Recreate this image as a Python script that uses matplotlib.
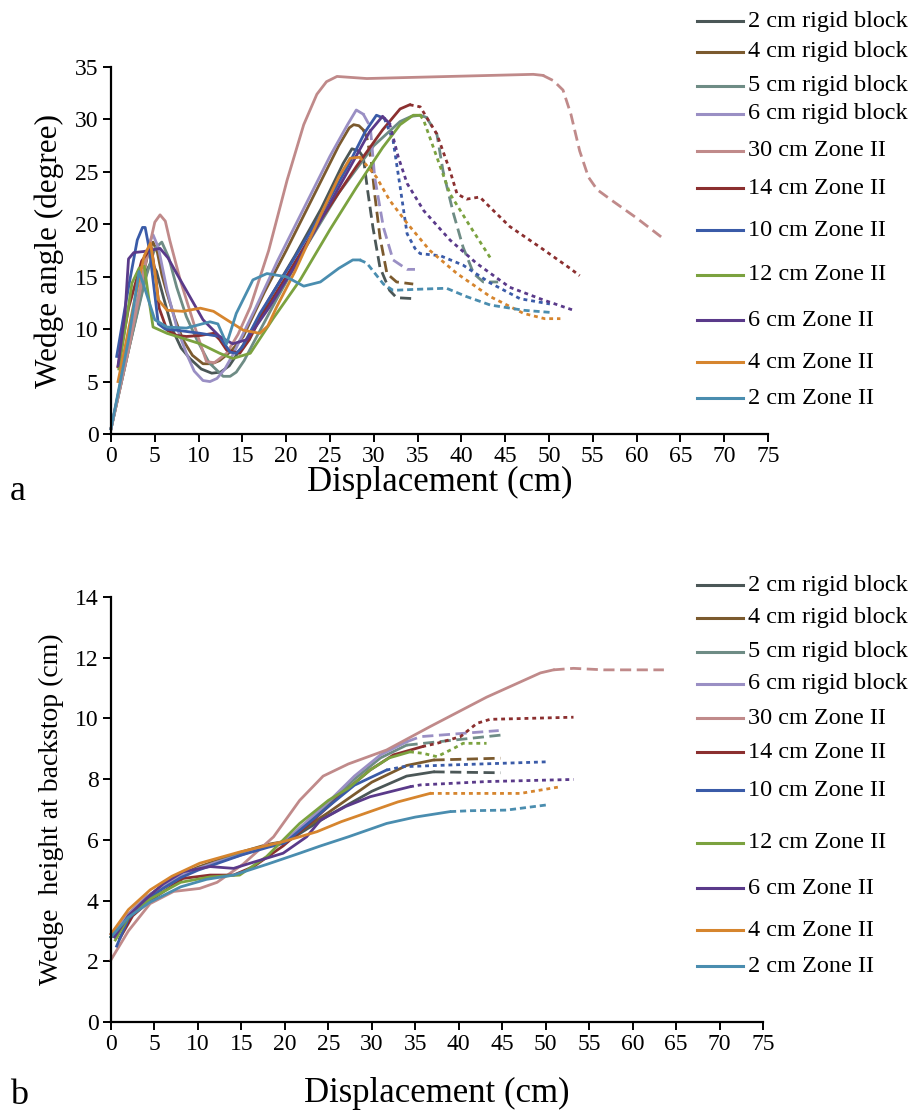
import numpy as np
import matplotlib
matplotlib.use("Agg")
import matplotlib.pyplot as plt
from matplotlib.lines import Line2D

plt.rcParams['font.family'] = ['Liberation Serif', 'DejaVu Serif']

# ---- series names / colours ----
labels = ['2 cm rigid block', '4 cm rigid block', '5 cm rigid block', '6 cm rigid block',
          '30 cm Zone II', '14 cm Zone II', '10 cm Zone II', '12 cm Zone II',
          '6 cm Zone II', '4 cm Zone II', '2 cm Zone II']
colors = ['#4B5757', '#7B5A2E', '#6E8C85', '#9A8FC4', '#C08A8A', '#8B2F2F',
          '#3A5BA8', '#7BA23F', '#5A3A8A', '#D6852E', '#4A8DAF']

x_ticks = np.arange(0, 80, 5)
a_y_ticks = np.arange(0, 40, 5)
b_y_ticks = np.arange(0, 16, 2)

# ---- panel a : wedge angle (degree) vs displacement (cm) ----
# solid part (measured) and dashed continuation, one pair per series
a_rb2 = [(0, 0.5), (2, 8), (3.5, 13.5), (4.2, 15.8), (4.6, 16.4), (5.2, 15.5), (6, 13), (7, 10),
         (8, 8.2), (9, 7.2), (10.3, 6.2), (11.5, 5.8), (12.5, 5.9), (13.5, 6.5), (15.5, 9),
         (18, 12.8), (21, 17), (24, 21.5), (26.5, 25.8), (27.5, 27.2), (28.3, 27), (28.8, 26.4)]
a_rb2_d = [(28.8, 26.4), (29.3, 23.2), (29.9, 19.7), (30.7, 15.9), (31.8, 13.7), (32.6, 13),
           (34.7, 12.9)]
a_rb4 = [(0, 0.5), (2, 8.5), (3.5, 14.5), (4.3, 17.5), (4.8, 18.3), (5.3, 17.3), (5.8, 15.2),
         (6.4, 13.4), (7.3, 11), (8.2, 9), (9.3, 7.5), (10.5, 6.7), (11.5, 6.7), (12.4, 7.0),
         (13.7, 7.9), (15.1, 9.3), (17.5, 13.5), (20, 17.5), (23, 22.5), (26, 27.5), (27.2, 29.2),
         (27.7, 29.5), (28.3, 29.4), (28.8, 29)]
a_rb4_d = [(28.8, 29), (29.2, 28.3), (29.7, 26.1), (30.1, 22.9), (30.7, 18.8), (31.5, 15.3),
           (32.6, 14.5), (34.5, 14.3)]
a_rb5 = [(0, 0.5), (2, 8), (4, 15), (5, 17.7), (5.8, 18.3), (6.6, 16.8), (7.5, 14), (8.6, 11.2),
         (9.8, 9), (11.2, 6.8), (12.8, 5.5), (13.6, 5.5), (14.3, 5.9), (15.2, 7), (16.2, 8.6),
         (19, 13), (22, 17.5), (26, 23), (30, 27.5), (33, 29.8), (34.3, 30.3), (35.3, 30.4),
         (36, 30.2)]
a_rb5_d = [(36, 30.2), (37.2, 28.6), (37.9, 25.1), (39.1, 21), (40.2, 17.8), (41.4, 15.3),
           (42.5, 14.5), (44.2, 14.5)]
a_rb6 = [(0, 0.5), (2, 8.5), (3.7, 15.5), (4.4, 18.3), (4.8, 19), (5.4, 17.8), (6.4, 13.7),
         (7.5, 10.2), (8.6, 7.7), (9.5, 6.0), (10.5, 5.1), (11.3, 5.0), (12.1, 5.3), (13, 6.2),
         (14, 7.7), (16.5, 12), (19, 16.5), (22, 21.5), (25, 26.5), (27, 29.5), (28, 30.9),
         (28.8, 30.5)]
a_rb6_d = [(28.8, 30.5), (29.6, 29.3), (30.1, 24.5), (31.1, 19.7), (32.2, 16.6), (33.8, 15.7),
           (34.7, 15.7)]
a_z30 = [(0, 0.5), (2, 8), (4, 16.5), (5, 20.2), (5.6, 20.9), (6.2, 20.3), (6.7, 18.5),
         (7.9, 14.7), (9.8, 9.6), (10.9, 6.9), (11.8, 6.8), (13.2, 7.7), (14.5, 9.5), (15.9, 12.1),
         (18, 17.5), (20.1, 24.2), (22, 29.5), (23.5, 32.4), (24.6, 33.6), (25.8, 34.1),
         (29.2, 33.9), (38.7, 34.1), (48.2, 34.3), (49.3, 34.2)]
a_z30_d = [(49.3, 34.2), (50.5, 33.7), (51.6, 32.8), (52.5, 30.5), (53.5, 27), (54.5, 24.5),
           (55.5, 23.3), (57.3, 22.2), (60, 20.6), (62.8, 18.8)]
a_z14 = [(0.8, 6.4), (2, 12), (3.5, 16.5), (4.6, 17.8), (5.1, 15), (5.5, 12), (6.4, 9.9),
         (7.5, 9.4), (8.6, 9.3), (10.2, 9.4), (11.7, 9.6), (12.4, 9.0), (13.2, 8.0), (14.7, 7.7),
         (15.8, 9.0), (17, 11), (20, 15), (24, 20.5), (28, 25.5), (31, 29), (33, 31), (34.1, 31.4)]
a_z14_d = [(34.1, 31.4), (35.3, 31.2), (37.2, 28.6), (38.7, 25.1), (39.5, 22.9), (40.6, 22.4),
           (42.1, 22.6), (43.3, 21.6), (45.5, 19.8), (49, 17.8), (52.4, 15.8), (53.5, 15.1)]
a_z10 = [(0.65, 7.4), (2, 14), (3, 18.5), (3.6, 19.7), (3.9, 19.7), (4.4, 17.5), (4.8, 14.7),
         (5.4, 10.5), (6.2, 10), (7.5, 9.9), (10.2, 9.6), (12.4, 9.3), (13.6, 7.8), (14.3, 7.7),
         (15, 8.3), (17, 11.5), (20, 15.5), (24, 21), (27, 25.5), (29, 28.8), (30.3, 30.4),
         (31.2, 30.1)]
a_z10_d = [(31.2, 30.1), (32.2, 28), (33, 23.6), (33.8, 19.1), (34.7, 17.7), (35.3, 17.2),
           (37.6, 17.0), (40.2, 16.1), (43.3, 14.4), (46.7, 12.9), (50.1, 12.4)]
a_z12 = [(0.9, 6.2), (2.4, 14.4), (3.2, 15.8), (3.8, 16), (4.3, 13), (4.8, 10.2), (6.4, 9.6),
         (10.2, 8.6), (12.4, 7.7), (13.9, 7.2), (15.9, 7.7), (18.5, 11), (21.6, 14.7), (25, 19.5),
         (28, 23.5), (31, 27.3), (33, 29.5), (34.5, 30.4), (35.3, 30.4)]
a_z12_d = [(35.3, 30.4), (35.7, 29.9), (37.2, 26.4), (38.7, 22.9), (41, 19.8), (43.3, 16.8)]
a_z6 = [(0.8, 6.5), (1.6, 11.5), (2, 16.7), (2.6, 17.3), (3.7, 17.4), (5.6, 17.7), (6.5, 16.8),
        (7.5, 15.3), (9, 13.1), (10.5, 10.9), (12.4, 9.3), (13.9, 8.6), (15.5, 9.0), (18, 12),
        (21, 16), (24, 20.5), (27, 25), (29.5, 28.8), (31, 30.3), (31.8, 29.6)]
a_z6_d = [(31.8, 29.6), (32.8, 26.4), (33.8, 23.9), (35.7, 21.3), (38.7, 18.5), (41.7, 16.3),
          (45.5, 14.0), (49.3, 12.8), (52.8, 11.8)]
a_z4 = [(0.8, 5.0), (2.5, 12), (3.8, 17), (4.5, 18.2), (5, 15.5), (5.4, 12.8), (6.4, 11.8),
        (8.2, 11.7), (10.2, 12), (11.7, 11.7), (13.2, 10.9), (15.1, 9.9), (17, 9.6), (17.9, 10.3),
        (18.9, 12.1), (21, 15.5), (24, 21), (26, 24.5), (27.3, 26.3), (28.4, 26.4)]
a_z4_d = [(28.4, 26.4), (30.3, 24.5), (31.8, 22.3), (33.8, 20.1), (36.4, 17.5), (39.5, 15.3),
          (43.3, 13.1), (47.1, 11.5), (49.5, 11.0), (51.3, 11.0)]
a_z2 = [(0, 0.5), (2, 9), (3.2, 15.5), (4, 13.5), (5, 10.9), (6.4, 10.2), (8.6, 10.1), (11.3, 10.7),
        (12.2, 10.5), (13.2, 8.6), (14.3, 11.5), (16.2, 14.7), (17.8, 15.3), (20, 15.0),
        (22, 14.1), (23.9, 14.5), (26, 15.8), (27.6, 16.6), (28.4, 16.6)]
a_z2_d = [(28.4, 16.6), (29.2, 16.3), (31.1, 14.3), (32.2, 13.7), (34.9, 13.8), (38.3, 13.9),
          (40.6, 13.1), (43.3, 12.3), (47.1, 11.8), (50.1, 11.6)]

# ---- panel b : wedge height at backstop (cm) vs displacement (cm) ----
b_rb2 = [(0, 2.8), (2, 3.5), (4, 4.05), (6, 4.45), (8, 4.8), (10, 5.05), (12, 5.25), (15, 5.55),
         (18, 5.8), (20, 5.9), (25, 6.8), (30, 7.6), (34, 8.1), (37.1, 8.24)]
b_rb2_d = [(37.1, 8.24), (44.8, 8.21)]
b_rb4 = [(0, 2.8), (2, 3.55), (4, 4.1), (6, 4.5), (8, 4.85), (10, 5.1), (12, 5.3), (15, 5.6),
         (18, 5.85), (20, 5.95), (25, 6.9), (30, 7.9), (34, 8.45), (37.1, 8.63)]
b_rb4_d = [(37.1, 8.63), (44.8, 8.69)]
b_rb5 = [(0, 2.8), (2, 3.5), (4, 4.05), (6, 4.45), (8, 4.8), (10, 5.05), (12, 5.25), (15, 5.55),
         (18, 5.8), (20, 5.95), (25, 7.2), (28, 8.0), (31, 8.7), (34, 9.12)]
b_rb5_d = [(34, 9.12), (44.8, 9.45)]
b_rb6 = [(0, 2.9), (2, 3.55), (4, 4.1), (6, 4.5), (8, 4.85), (10, 5.05), (12, 5.25), (15, 5.5),
         (18, 5.8), (20, 5.95), (25, 7.25), (28, 8.1), (31, 8.8), (34, 9.23)]
b_rb6_d = [(34, 9.23), (35.6, 9.4), (44.6, 9.6)]
b_z30 = [(0, 2.05), (2, 3.0), (4.5, 3.9), (7.2, 4.3), (10.2, 4.4), (12.2, 4.6), (15.2, 5.2),
         (18.7, 6.1), (21.7, 7.3), (24.4, 8.1), (27.3, 8.5), (31.7, 8.96), (36.7, 9.73),
         (43.2, 10.7), (49.4, 11.5), (50.9, 11.6)]
b_z30_d = [(50.9, 11.6), (53.2, 11.65), (56.7, 11.6), (63.6, 11.6)]
b_z14 = [(1, 2.75), (2.5, 3.5), (4.5, 4.0), (8.3, 4.73), (11.4, 4.84), (14.1, 4.84), (16.4, 5.12),
         (19.8, 5.8), (23.7, 6.76), (27.3, 7.7), (29.8, 8.3), (32.5, 8.8), (35.8, 9.07)]
b_z14_d = [(35.8, 9.07), (37.5, 9.18), (40.2, 9.4), (42.1, 9.84), (43.6, 9.97), (53.2, 10.04)]
b_z10 = [(0.65, 2.5), (2, 3.4), (4, 4.0), (6, 4.4), (8, 4.75), (10, 5.0), (12, 5.2), (15, 5.5),
         (18, 5.75), (20, 5.9), (25, 7.1), (28, 7.8), (31.7, 8.3)]
b_z10_d = [(31.7, 8.3), (33.6, 8.41), (39.4, 8.47), (50.1, 8.57)]
b_z12 = [(0.5, 2.7), (2, 3.45), (4.5, 4.05), (8, 4.6), (11.4, 4.78), (14.8, 4.84), (17.9, 5.45),
         (21.7, 6.54), (25, 7.3), (27.3, 7.7), (29.8, 8.3), (32, 8.7), (34.4, 8.9)]
b_z12_d = [(34.4, 8.9), (35.9, 8.85), (37.5, 8.74), (39.4, 9.01), (40.5, 9.18), (43.2, 9.18)]
b_z6 = [(0.4, 2.8), (2, 3.5), (4, 4.05), (6, 4.55), (8.3, 4.95), (11.4, 5.12), (14.1, 5.06),
        (16, 5.23), (19.8, 5.56), (22.5, 6.1), (24.1, 6.65), (27, 7.1), (29.8, 7.42), (34.4, 7.75)]
b_z6_d = [(34.4, 7.75), (35.6, 7.81), (43.2, 7.92), (53.2, 7.99)]
b_z4 = [(0, 2.9), (2, 3.7), (4.5, 4.35), (7, 4.8), (10.2, 5.23), (14.8, 5.6), (19.8, 5.94),
        (23.7, 6.27), (26.5, 6.6), (29.8, 6.93), (33, 7.25), (36.7, 7.53)]
b_z4_d = [(36.7, 7.53), (39.4, 7.53), (47.1, 7.53), (49.4, 7.64), (51.7, 7.75)]
b_z2 = [(0, 2.8), (2, 3.45), (4.5, 3.95), (8, 4.45), (11, 4.7), (14.1, 4.84), (18, 5.2),
        (21.7, 5.56), (24.1, 5.8), (27.3, 6.1), (31.7, 6.54), (35, 6.75), (39, 6.93)]
b_z2_d = [(39, 6.93), (41.3, 6.96), (45.5, 6.98), (50.1, 7.15)]

a_solid = [a_rb2, a_rb4, a_rb5, a_rb6, a_z30, a_z14, a_z10, a_z12, a_z6, a_z4, a_z2]
a_dash = [a_rb2_d, a_rb4_d, a_rb5_d, a_rb6_d, a_z30_d, a_z14_d, a_z10_d, a_z12_d, a_z6_d, a_z4_d, a_z2_d]
b_solid = [b_rb2, b_rb4, b_rb5, b_rb6, b_z30, b_z14, b_z10, b_z12, b_z6, b_z4, b_z2]
b_dash = [b_rb2_d, b_rb4_d, b_rb5_d, b_rb6_d, b_z30_d, b_z14_d, b_z10_d, b_z12_d, b_z6_d, b_z4_d, b_z2_d]

# dashed continuation styles: long dash for rigid blocks and 30 cm, square dots for the rest
long_dash = (0, (4, 2))
dots = (0, (1.4, 1.4))
dash_styles = [long_dash] * 5 + [dots] * 5 + [(0, (2.2, 1.4))]

# legend rows (figure pixel y of each row)
a_leg_y = [21, 52, 86, 114, 151, 188, 230, 275, 320, 362, 398]
b_leg_y = [585, 618, 652, 684, 718, 752, 790, 843, 888, 930, 966]

W, H = 910, 1114
fig = plt.figure(figsize=(W / 100, H / 100), dpi=100)


def style_axes(ax, yticks, ylabel, ylab_size, xlab_y):
    for side in ('top', 'right'):
        ax.spines[side].set_visible(False)
    for side in ('left', 'bottom'):
        ax.spines[side].set_linewidth(1.6)
    ax.set_xlim(0, 75)
    ax.set_ylim(yticks[0], yticks[-1])
    ax.set_xticks(x_ticks)
    ax.set_yticks(yticks)
    ax.tick_params(direction='out', length=6, width=1.4, labelsize=17, pad=3)
    ax.set_xlabel('Displacement (cm)', fontsize=25)
    ax.xaxis.set_label_coords(0.5, xlab_y)
    ax.set_ylabel(ylabel, fontsize=ylab_size, labelpad=8)


def draw_panel(ax, solid, dash):
    for pts, pts_d, c, ls in zip(solid, dash, colors, dash_styles):
        p = np.array(pts)
        q = np.array(pts_d)
        ax.plot(p[:, 0], p[:, 1], color=c, lw=2.0, solid_joinstyle='round', clip_on=False)
        ax.plot(q[:, 0], q[:, 1], color=c, lw=2.0, ls=ls, clip_on=False)


def draw_legend(rows):
    for lab, c, yp in zip(labels, colors, rows):
        yf = 1 - yp / H
        fig.add_artist(Line2D([697 / W, 743 / W], [yf, yf], color=c, lw=2.2))
        fig.text(748 / W, yf, lab, fontsize=17.5, va='center', ha='left')


ax_a = fig.add_axes([111 / W, 1 - 434 / H, 657 / W, 367 / H])
draw_panel(ax_a, a_solid, a_dash)
style_axes(ax_a, a_y_ticks, 'Wedge angle (degree)', 22.5, -0.088)
draw_legend(a_leg_y)
fig.text(10 / W, 1 - 492 / H, 'a', fontsize=26, va='center')

ax_b = fig.add_axes([111 / W, 1 - 1022 / H, 652 / W, 425 / H])
draw_panel(ax_b, b_solid, b_dash)
style_axes(ax_b, b_y_ticks, 'Wedge  height at backstop (cm)', 20, -0.13)
draw_legend(b_leg_y)
fig.text(10 / W, 1 - 1096 / H, 'b', fontsize=26, va='center')

fig.savefig('out.png', dpi=100)
